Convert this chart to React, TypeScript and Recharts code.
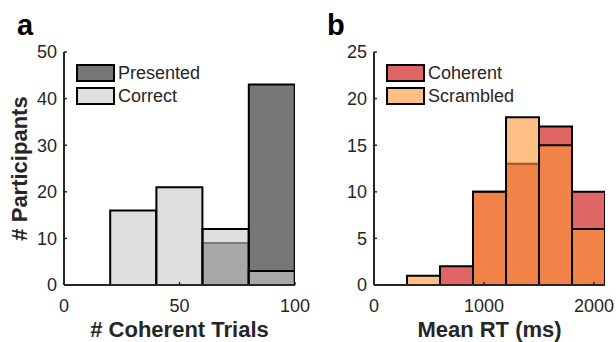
import { BarChart, Bar, XAxis, YAxis, Legend } from "recharts";

// panel a: number of coherent trials (bins of 20)
const trialBinStarts = [0, 20, 40, 60, 80];
const presentedCounts = [0, 0, 0, 9, 43];
const correctCounts = [0, 16, 21, 12, 3];
const trialTicks = [0, 50, 100];
const trialCountTicks = [0, 10, 20, 30, 40, 50];

// panel b: mean reaction time (bins of 300 ms)
const rtBinStarts = [0, 300, 600, 900, 1200, 1500, 1800];
const coherentCounts = [0, 0, 2, 10, 13, 17, 10];
const scrambledCounts = [0, 1, 0, 10, 18, 15, 6];
const rtTicks = [0, 1000, 2000];
const rtCountTicks = [0, 5, 10, 15, 20, 25];

const FONT = '"Liberation Sans", Arial, Helvetica, sans-serif';
const INK = "#262626";
const ALPHA = 0.6;

interface Series {
  key: string;
  name: string;
  fill: string;
  counts: number[];
}

interface PanelProps {
  letter: string;
  left: number;
  width: number;
  binStarts: number[];
  binWidth: number;
  under: Series;
  over: Series;
  xTicks: number[];
  yTicks: number[];
  xLabel: string;
  yLabel: string;
}

function hexToRgba(hex: string, a: number) {
  const n = parseInt(hex.slice(1), 16);
  return `rgba(${(n >> 16) & 255},${(n >> 8) & 255},${n & 255},${a})`;
}

function HistPanel(p: PanelProps) {
  const data = p.binStarts.map((start, i) => ({
    mid: start + p.binWidth / 2,
    [p.under.key]: p.under.counts[i],
    [p.over.key]: p.over.counts[i],
  }));
  const xMax = p.binStarts[p.binStarts.length - 1] + p.binWidth;
  const yMax = p.yTicks[p.yTicks.length - 1];
  const tickStyle = { fill: INK, fontSize: 18, fontFamily: FONT };
  // plot area always spans 64..295 inside the panel
  const rightMargin = p.width - 295;

  const legendContent = () => (
    <div style={{ display: "flex", flexDirection: "column", gap: 5, fontFamily: FONT }}>
      {[p.under, p.over].map((s) => (
        <div key={s.key} style={{ display: "flex", alignItems: "center", height: 18 }}>
          <div
            style={{
              width: 35,
              height: 14,
              border: "2px solid #000",
              background: hexToRgba(s.fill, ALPHA),
            }}
          />
          <span style={{ marginLeft: 3, fontSize: 18, color: INK, lineHeight: "18px" }}>{s.name}</span>
        </div>
      ))}
    </div>
  );

  return (
    <div style={{ position: "absolute", left: p.left, top: 0, width: p.width, height: 342 }}>
      <div
        style={{
          position: "absolute",
          left: 17,
          top: 8,
          fontFamily: FONT,
          fontWeight: "bold",
          fontSize: 29,
          lineHeight: "34px",
          color: "#000",
        }}
      >
        {p.letter}
      </div>
      <BarChart
        width={p.width}
        height={342}
        data={data}
        margin={{ top: 52, right: rightMargin, left: 0, bottom: 0 }}
        barCategoryGap={0}
        barGap={0}
      >
        <XAxis xAxisId="under" dataKey="mid" type="number" domain={[0, xMax]} allowDataOverflow hide />
        <XAxis xAxisId="over" dataKey="mid" type="number" domain={[0, xMax]} allowDataOverflow hide />
        <XAxis
          xAxisId="num"
          dataKey="mid"
          type="number"
          domain={[0, xMax]}
          allowDataOverflow
          ticks={p.xTicks}
          interval={0}
          height={57}
          tickSize={-3}
          tickMargin={17}
          tick={tickStyle}
          axisLine={{ stroke: INK, strokeWidth: 2 }}
          tickLine={{ stroke: INK, strokeWidth: 1.5 }}
          label={{
            content: (lp: any) => (
              <text
                x={lp.viewBox.x + lp.viewBox.width / 2}
                y={lp.viewBox.y + 52}
                textAnchor="middle"
                fontFamily={FONT}
                fontWeight="bold"
                fontSize={22}
                fill={INK}
              >
                {p.xLabel}
              </text>
            ),
          }}
        />
        <YAxis
          type="number"
          domain={[0, yMax]}
          ticks={p.yTicks}
          interval={0}
          width={64}
          tickSize={-3}
          tickMargin={10}
          tick={tickStyle}
          axisLine={{ stroke: INK, strokeWidth: 2 }}
          tickLine={{ stroke: INK, strokeWidth: 1.5 }}
          label={{
            content: (lp: any) => {
              const cy = lp.viewBox.y + lp.viewBox.height / 2;
              return (
                <text
                  x={27}
                  y={cy}
                  transform={`rotate(-90 27 ${cy})`}
                  textAnchor="middle"
                  fontFamily={FONT}
                  fontWeight="bold"
                  fontSize={22}
                  fill={INK}
                >
                  {p.yLabel}
                </text>
              );
            },
          }}
        />
        <Legend
          layout="vertical"
          align="center"
          verticalAlign="middle"
          wrapperStyle={{ left: 76, top: 64, width: "auto" }}
          content={legendContent}
        />
        <Bar
          xAxisId="under"
          dataKey={p.under.key}
          name={p.under.name}
          fill={p.under.fill}
          fillOpacity={ALPHA}
          stroke="#000"
          strokeWidth={2}
          isAnimationActive={false}
        />
        <Bar
          xAxisId="over"
          dataKey={p.over.key}
          name={p.over.name}
          fill={p.over.fill}
          fillOpacity={ALPHA}
          stroke="#000"
          strokeWidth={2}
          isAnimationActive={false}
        />
      </BarChart>
    </div>
  );
}

export default function App() {
  return (
    <div style={{ position: "absolute", left: 0, top: 0, width: 616, height: 342, background: "#fff" }}>
      <HistPanel
        letter="a"
        left={0}
        width={318}
        binStarts={trialBinStarts}
        binWidth={20}
        under={{ key: "presented", name: "Presented", fill: "#1c1c1c", counts: presentedCounts }}
        over={{ key: "correct", name: "Correct", fill: "#cacaca", counts: correctCounts }}
        xTicks={trialTicks}
        yTicks={trialCountTicks}
        xLabel="# Coherent Trials"
        yLabel="# Participants"
      />
      <HistPanel
        letter="b"
        left={310}
        width={306}
        binStarts={rtBinStarts}
        binWidth={300}
        under={{ key: "coherent", name: "Coherent", fill: "#cb0000", counts: coherentCounts }}
        over={{ key: "scrambled", name: "Scrambled", fill: "#fc9434", counts: scrambledCounts }}
        xTicks={rtTicks}
        yTicks={rtCountTicks}
        xLabel="Mean RT (ms)"
        yLabel=""
      />
    </div>
  );
}
